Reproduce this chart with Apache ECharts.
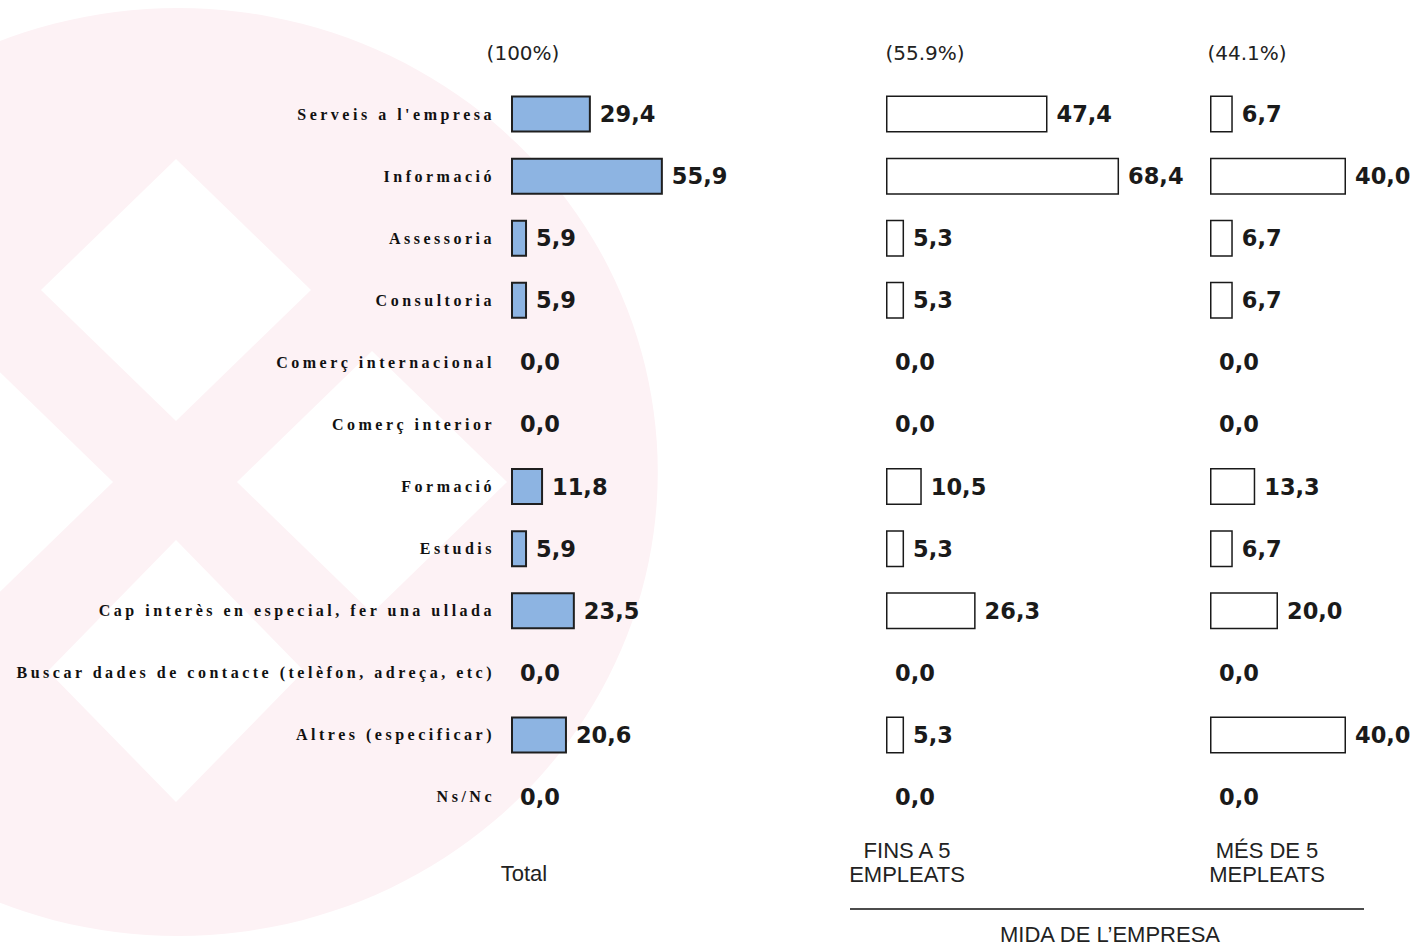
<!DOCTYPE html>
<html>
<head>
<meta charset="utf-8">
<script src="https://cdn.jsdelivr.net/npm/echarts@6/dist/echarts.min.js"></script>
<style>
html,body{margin:0;padding:0;background:#fff;}
#chart{width:1412px;height:946px;}
text[style*="Liberation Serif"]{letter-spacing:3.5px;}
</style>
</head>
<body>
<div id="chart"></div>
<script>
// ---- data ----
const categories = [
  "Serveis a l'empresa",
  "Informació",
  "Assessoria",
  "Consultoria",
  "Comerç internacional",
  "Comerç interior",
  "Formació",
  "Estudis",
  "Cap interès en especial, fer una ullada",
  "Buscar dades de contacte (telèfon, adreça, etc)",
  "Altres (especificar)",
  "Ns/Nc"
];
const totalValues = [29.4, 55.9, 5.9, 5.9, 0.0, 0.0, 11.8, 5.9, 23.5, 0.0, 20.6, 0.0];
const fins5Values = [47.4, 68.4, 5.3, 5.3, 0.0, 0.0, 10.5, 5.3, 26.3, 0.0, 5.3, 0.0];
const mes5Values  = [6.7, 40.0, 6.7, 6.7, 0.0, 0.0, 13.3, 6.7, 20.0, 0.0, 40.0, 0.0];
const headerLabels = ["(100%)", "(55.9%)", "(44.1%)"];
const columnLabels = [["Total"], ["FINS A 5", "EMPLEATS"], ["MÉS DE 5", "MEPLEATS"]];
const groupLabel = "MIDA DE L\u2019EMPRESA";

// ---- layout ----
const TOP = 83, HEIGHT = 745;
const grids = [
  {left: 511, top: TOP, width: 163, height: HEIGHT, max: 60},
  {left: 886, top: TOP, width: 238.5, height: HEIGHT, max: 70},
  {left: 1210, top: TOP, width: 136, height: HEIGHT, max: 40}
];
const headerX = [523, 925, 1247];
const columnX = [524, 907, 1267];

const fmt = p => p.value.toFixed(1).replace('.', ',');

function makeData(vals) {
  return vals.map(v => v === 0 ? {value: v, itemStyle: {borderWidth: 0}} : v);
}

const seriesDefs = [
  {vals: totalValues, fill: '#8db4e2', border: '#1f1f1f', bw: 2},
  {vals: fins5Values, fill: '#ffffff', border: '#1a1a1a', bw: 1.5},
  {vals: mes5Values, fill: '#ffffff', border: '#1a1a1a', bw: 1.5}
];

const graphics = [];
// watermark background
graphics.push({
  type: 'circle', x: 178, y: 472, scaleX: 480 / 464, scaleY: 1,
  shape: {cx: 0, cy: 0, r: 464}, style: {fill: '#fdf2f5'}, z: -100, silent: true
});
const diamonds = [[176, 290, 135, 131], [176, 671, 128, 131], [372, 482, 135, 131], [-22, 482, 135, 131]];
diamonds.forEach(d => {
  graphics.push({
    type: 'polygon', z: -99, silent: true,
    shape: {points: [[d[0], d[1] - d[3]], [d[0] + d[2], d[1]], [d[0], d[1] + d[3]], [d[0] - d[2], d[1]]]},
    style: {fill: '#ffffff'}
  });
});
headerLabels.forEach((t, i) => {
  graphics.push({
    type: 'text', x: headerX[i], y: 53, z: 10,
    style: {text: t, fill: '#222', font: '20px "DejaVu Sans"', textAlign: 'center', textVerticalAlign: 'middle', verticalAlign: 'middle'}
  });
});
columnLabels.forEach((lines, i) => {
  const ys = lines.length === 1 ? [873] : [850, 874];
  lines.forEach((t, j) => {
    graphics.push({
      type: 'text', x: columnX[i], y: ys[j], z: 10,
      style: {text: t, fill: '#222', font: '22px "Liberation Sans"', textAlign: 'center', textVerticalAlign: 'middle', verticalAlign: 'middle'}
    });
  });
});
graphics.push({
  type: 'line', z: 10, shape: {x1: 850, y1: 909, x2: 1364, y2: 909},
  style: {stroke: '#111', lineWidth: 1.5}
});
graphics.push({
  type: 'text', x: 1110, y: 934, z: 10,
  style: {text: groupLabel, fill: '#222', font: '22px "Liberation Sans"', textAlign: 'center', textVerticalAlign: 'middle', verticalAlign: 'middle'}
});

const option = {
  backgroundColor: '#ffffff',
  animation: false,
  graphic: {elements: graphics},
  grid: grids.map(g => ({left: g.left, top: g.top, width: g.width, height: g.height, containLabel: false})),
  xAxis: grids.map((g, i) => ({
    type: 'value', gridIndex: i, min: 0, max: g.max, show: false
  })),
  yAxis: grids.map((g, i) => ({
    type: 'category', gridIndex: i, data: categories, inverse: true,
    axisLine: {show: false}, axisTick: {show: false}, splitLine: {show: false},
    axisLabel: i === 0 ? {
      show: true, margin: 16, color: '#111',
      fontFamily: 'Liberation Serif', fontWeight: 'bold', fontSize: 16
    } : {show: false}
  })),
  series: seriesDefs.map((s, i) => ({
    type: 'bar', xAxisIndex: i, yAxisIndex: i,
    data: makeData(s.vals), barWidth: 37,
    itemStyle: {color: s.fill, borderColor: s.border, borderWidth: s.bw},
    label: {
      show: true, position: 'right', distance: 9, formatter: fmt,
      fontFamily: 'DejaVu Sans', fontWeight: 'bold', fontSize: 22.5, color: '#1a1a1a'
    }
  }))
};

const chart = echarts.init(document.getElementById('chart'), null, {renderer: 'svg'});
chart.setOption(option);
</script>
</body>
</html>
